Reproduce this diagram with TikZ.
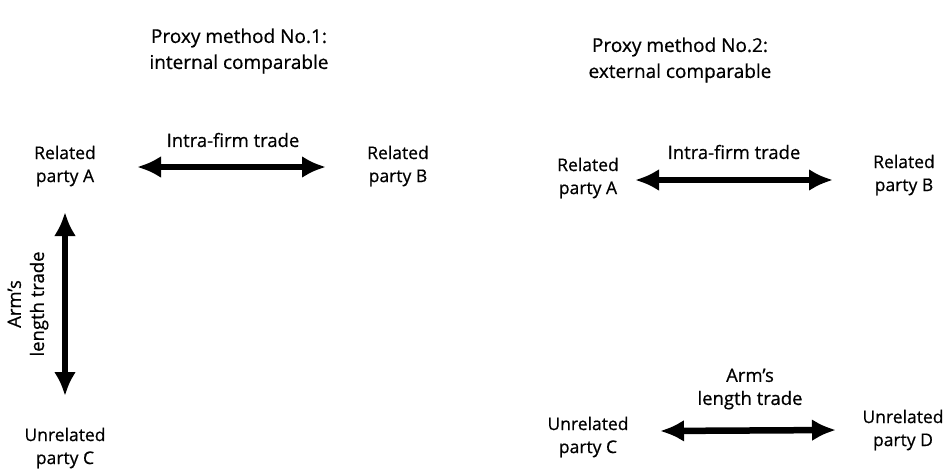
\documentclass[tikz,border=0pt]{standalone}
\usepackage{fontspec}
\setmainfont{Open Sans}[FakeBold=0.6]
\usetikzlibrary{arrows.meta}
\begin{document}
\begin{tikzpicture}[x=1pt,y=-1pt,
    party/.style={align=center,font=\fontsize{17.5}{23}\selectfont,inner sep=0pt},
    title/.style={align=center,font=\fontsize{19}{26}\selectfont,inner sep=0pt},
    trade/.style={font=\fontsize{18.5}{23}\selectfont,inner sep=0pt,align=center},
    flow/.style={line width=6.5pt,{Latex[length=24pt,width=22pt]}-{Latex[length=24pt,width=22pt]}}]
        \useasboundingbox (0,0) rectangle (944,469);
        % method 1: internal comparable
        \node[title] (t1) at (239,51){Proxy method No.1:\\internal comparable};
        \node[party] (a1) at (65,166){Related\\party A};
        \node[party] (b1) at (398,166){Related\\party B};
        \node[party] (c1) at (65,448){Unrelated\\party C};
        \coordinate (ab1l) at (137,167);
        \coordinate (ab1r) at (326,167);
        \draw[flow] (ab1l) -- (ab1r);
        \node[trade] (ab1) at (233,140){Intra-firm trade};
        \coordinate (ac1t) at (65,212);
        \coordinate (ac1b) at (65,396);
        \draw[flow] (ac1t) -- (ac1b);
        \node[trade,rotate=90] (ac1) at (28,304){Arm's\\length trade};
        % method 2: external comparable
        \node[title] (t2) at (680,60){Proxy method No.2:\\external comparable};
        \node[party] (a2) at (588,178){Related\\party A};
        \node[party] (b2) at (904,175){Related\\party B};
        \node[party] (c2) at (588,437){Unrelated\\party C};
        \node[party] (d2) at (903,430){Unrelated\\party D};
        \coordinate (ab2l) at (635,180);
        \coordinate (ab2r) at (833,180);
        \draw[flow] (ab2l) -- (ab2r);
        \node[trade] (ab2) at (734,152){Intra-firm trade};
        \coordinate (cd2l) at (660,431);
        \coordinate (cd2r) at (836,430);
        \draw[flow] (cd2l) -- (cd2r);
        \node[trade] (cd2) at (750,389){Arm's\\length trade};
\end{tikzpicture}
\end{document}
